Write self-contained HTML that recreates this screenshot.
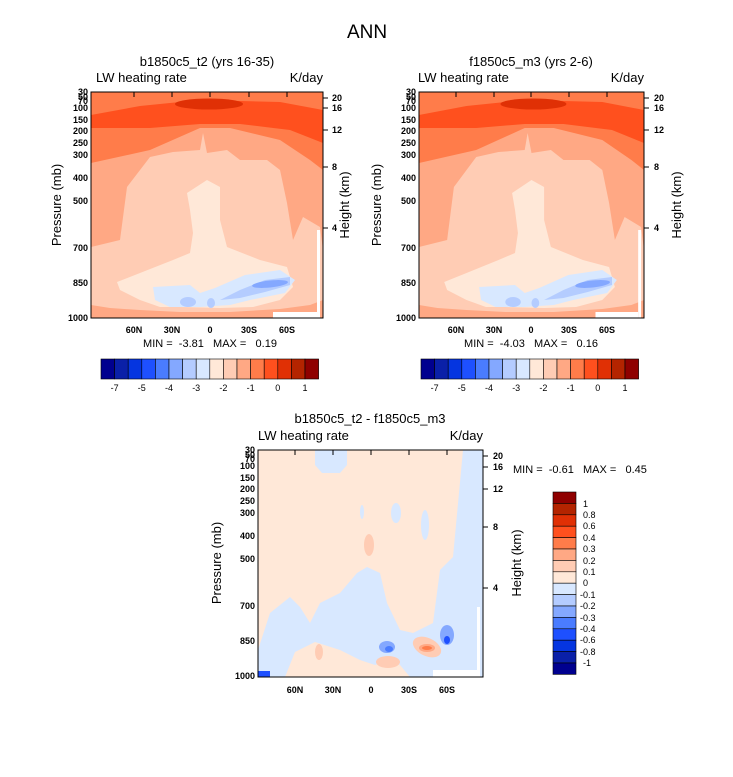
<!DOCTYPE html>
<html><head><meta charset="utf-8"><style>
body{margin:0;background:#fff;}
svg text{font-family:"Liberation Sans",Arial,sans-serif;white-space:pre;}
</style></head><body>
<svg width="733" height="772" viewBox="0 0 733 772" xmlns="http://www.w3.org/2000/svg" xml:space="preserve">
<defs>
<g id="field">
 <rect x="91" y="92" width="232" height="226" fill="#ffccb4"/>
 <polygon fill="#ffa884" points="91,92 323,92 323,250 320,227 303,217 293,240 287,203 280,170 267,160 240,160 227,150 207,153 203,133 200,150 173,152 150,157 127,187 120,240 91,247"/>
 <polygon fill="#ffa884" points="91,318 91,305 110,308 140,310 180,312 230,312 280,309 310,305 323,300 323,318"/>
 <polygon fill="#ff7c4a" points="91,92 323,92 323,170 310,160 280,140 230,128 200,128 150,150 91,163"/>
 <polygon fill="#ff501e" points="91,115 140,106 200,100 280,102 323,110 323,143 290,130 240,124 200,124 150,128 91,128"/>
 <ellipse cx="209" cy="104" rx="34" ry="5.5" fill="#e03005"/>
 <polygon fill="#ffe8d8" points="187,193 207,180 220,187 220,220 227,247 260,260 287,267 293,287 280,300 253,307 220,308 180,307 160,307 140,300 120,290 117,282 140,273 173,260 190,253 193,233 190,210"/>
 <polygon fill="#d8e8ff" points="153,287 190,285 200,293 215,288 245,275 280,270 295,280 285,293 250,300 230,305 200,307 170,307 155,300"/>
 <ellipse cx="188" cy="302" rx="8" ry="5" fill="#b4ccff"/>
 <ellipse cx="211" cy="303" rx="4" ry="5" fill="#b4ccff"/>
 <polygon fill="#b4ccff" points="220,300 240,290 265,280 290,277 290,285 265,292 240,298"/>
 <ellipse cx="270" cy="284" rx="18" ry="3.5" fill="#84a8ff" transform="rotate(-6 270 284)"/>
 <rect x="273" y="312" width="44" height="6" fill="#fff"/>
 <rect x="317" y="230" width="3" height="88" fill="#fff"/>
</g>
</defs>

<text x="367" y="38" font-size="19" text-anchor="middle">ANN</text>

<!-- Panel 1 -->
<text x="207" y="66" font-size="13" text-anchor="middle">b1850c5_t2 (yrs 16-35)</text>
<text x="96" y="82" font-size="13">LW heating rate</text>
<text x="323" y="82" font-size="13" text-anchor="end">K/day</text>
<use href="#field"/>
<rect x="91" y="92" width="232" height="226" fill="none" stroke="#000" stroke-width="1"/>
<g font-size="9" font-weight="bold" text-anchor="end">
 <text x="88" y="95">30</text><text x="88" y="100">50</text><text x="88" y="104">70</text><text x="88" y="111">100</text>
 <text x="88" y="123">150</text><text x="88" y="134">200</text><text x="88" y="146">250</text><text x="88" y="158">300</text>
 <text x="88" y="181">400</text><text x="88" y="204">500</text><text x="88" y="251">700</text><text x="88" y="286">850</text><text x="88" y="321">1000</text>
</g>
<g stroke="#000" stroke-width="1">
 <line x1="323" y1="98" x2="328" y2="98"/><line x1="323" y1="108" x2="328" y2="108"/><line x1="323" y1="130" x2="328" y2="130"/><line x1="323" y1="167" x2="328" y2="167"/><line x1="323" y1="228" x2="328" y2="228"/>
 <line x1="134" y1="92" x2="134" y2="97"/><line x1="172" y1="92" x2="172" y2="97"/><line x1="210" y1="92" x2="210" y2="97"/><line x1="249" y1="92" x2="249" y2="97"/><line x1="287" y1="92" x2="287" y2="97"/>
</g>
<g font-size="9" font-weight="bold">
 <text x="332" y="101">20</text><text x="332" y="111">16</text><text x="332" y="133">12</text><text x="332" y="170">8</text><text x="332" y="231">4</text>
</g>
<g font-size="9" font-weight="bold" text-anchor="middle">
 <text x="134" y="333">60N</text><text x="172" y="333">30N</text><text x="210" y="333">0</text><text x="249" y="333">30S</text><text x="287" y="333">60S</text>
</g>
<text x="210" y="347" font-size="11" text-anchor="middle">MIN =  -3.81   MAX =   0.19</text>
<text transform="translate(61,205) rotate(-90)" font-size="13" text-anchor="middle">Pressure (mb)</text>
<text transform="translate(349,205) rotate(-90)" font-size="13" text-anchor="middle">Height (km)</text>

<!-- Panel 2 -->
<text x="531" y="66" font-size="13" text-anchor="middle">f1850c5_m3 (yrs 2-6)</text>
<text x="418" y="82" font-size="13">LW heating rate</text>
<text x="644" y="82" font-size="13" text-anchor="end">K/day</text>
<g transform="translate(419,0) scale(0.9698,1) translate(-91,0)"><use href="#field"/></g>
<rect x="419" y="92" width="225" height="226" fill="none" stroke="#000" stroke-width="1"/>
<g font-size="9" font-weight="bold" text-anchor="end" transform="translate(328,0)">
 <text x="88" y="95">30</text><text x="88" y="100">50</text><text x="88" y="104">70</text><text x="88" y="111">100</text>
 <text x="88" y="123">150</text><text x="88" y="134">200</text><text x="88" y="146">250</text><text x="88" y="158">300</text>
 <text x="88" y="181">400</text><text x="88" y="204">500</text><text x="88" y="251">700</text><text x="88" y="286">850</text><text x="88" y="321">1000</text>
</g>
<g stroke="#000" stroke-width="1">
 <line x1="644" y1="98" x2="649" y2="98"/><line x1="644" y1="108" x2="649" y2="108"/><line x1="644" y1="130" x2="649" y2="130"/><line x1="644" y1="167" x2="649" y2="167"/><line x1="644" y1="228" x2="649" y2="228"/>
 <line x1="456" y1="92" x2="456" y2="97"/><line x1="494" y1="92" x2="494" y2="97"/><line x1="531" y1="92" x2="531" y2="97"/><line x1="569" y1="92" x2="569" y2="97"/><line x1="607" y1="92" x2="607" y2="97"/>
</g>
<g font-size="9" font-weight="bold">
 <text x="654" y="101">20</text><text x="654" y="111">16</text><text x="654" y="133">12</text><text x="654" y="170">8</text><text x="654" y="231">4</text>
</g>
<g font-size="9" font-weight="bold" text-anchor="middle">
 <text x="456" y="333">60N</text><text x="494" y="333">30N</text><text x="531" y="333">0</text><text x="569" y="333">30S</text><text x="607" y="333">60S</text>
</g>
<text x="531" y="347" font-size="11" text-anchor="middle">MIN =  -4.03   MAX =   0.16</text>
<text transform="translate(381,205) rotate(-90)" font-size="13" text-anchor="middle">Pressure (mb)</text>
<text transform="translate(681,205) rotate(-90)" font-size="13" text-anchor="middle">Height (km)</text>

<!-- Colorbars top -->
<g id="cb1" stroke="#000" stroke-width="0.6">
 <rect x="101.0" y="359" width="13.6" height="20" fill="#00008f"/>
 <rect x="114.6" y="359" width="13.6" height="20" fill="#0a20a8"/>
 <rect x="128.2" y="359" width="13.6" height="20" fill="#0535e0"/>
 <rect x="141.8" y="359" width="13.6" height="20" fill="#1e50ff"/>
 <rect x="155.4" y="359" width="13.6" height="20" fill="#4a7cff"/>
 <rect x="169.0" y="359" width="13.6" height="20" fill="#84a8ff"/>
 <rect x="182.6" y="359" width="13.6" height="20" fill="#b4ccff"/>
 <rect x="196.2" y="359" width="13.6" height="20" fill="#d8e8ff"/>
 <rect x="209.8" y="359" width="13.6" height="20" fill="#ffe8d8"/>
 <rect x="223.4" y="359" width="13.6" height="20" fill="#ffccb4"/>
 <rect x="237.0" y="359" width="13.6" height="20" fill="#ffa884"/>
 <rect x="250.6" y="359" width="13.6" height="20" fill="#ff7c4a"/>
 <rect x="264.2" y="359" width="13.6" height="20" fill="#ff501e"/>
 <rect x="277.8" y="359" width="13.6" height="20" fill="#e03005"/>
 <rect x="291.4" y="359" width="13.6" height="20" fill="#b42400"/>
 <rect x="305.0" y="359" width="13.6" height="20" fill="#8f0000"/>
</g>
<g font-size="9" text-anchor="middle">
 <text x="114.6" y="391">-7</text><text x="141.8" y="391">-5</text><text x="169" y="391">-4</text><text x="196.2" y="391">-3</text><text x="223.4" y="391">-2</text><text x="250.6" y="391">-1</text><text x="277.8" y="391">0</text><text x="305" y="391">1</text>
</g>
<use href="#cb1" transform="translate(320,0)"/>
<g font-size="9" text-anchor="middle" transform="translate(320,0)">
 <text x="114.6" y="391">-7</text><text x="141.8" y="391">-5</text><text x="169" y="391">-4</text><text x="196.2" y="391">-3</text><text x="223.4" y="391">-2</text><text x="250.6" y="391">-1</text><text x="277.8" y="391">0</text><text x="305" y="391">1</text>
</g>

<!-- Panel 3 -->
<text x="370" y="423" font-size="13" text-anchor="middle">b1850c5_t2 - f1850c5_m3</text>
<text x="258" y="440" font-size="13">LW heating rate</text>
<text x="483" y="440" font-size="13" text-anchor="end">K/day</text>
<rect x="258" y="450" width="225" height="227" fill="#ffe8d8"/>
<polygon fill="#d8e8ff" points="315,450 347,450 347,465 340,473 322,473 315,465"/>
<polygon fill="#d8e8ff" points="258,650 270,613 290,597 300,607 310,623 320,603 340,593 357,573 367,567 380,573 387,603 400,630 413,633 433,623 440,570 453,557 463,450 483,450 483,677 258,677"/>
<polygon fill="#ffe8d8" points="285,677 295,652 315,642 340,650 360,660 375,665 390,660 400,665 410,677"/>
<ellipse cx="396" cy="513" rx="5" ry="10" fill="#d8e8ff"/>
<ellipse cx="425" cy="525" rx="4" ry="15" fill="#d8e8ff"/>
<ellipse cx="362" cy="512" rx="2" ry="7" fill="#d8e8ff"/>
<ellipse cx="369" cy="545" rx="5" ry="11" fill="#ffccb4"/>
<ellipse cx="319" cy="652" rx="4" ry="8" fill="#ffccb4"/>
<ellipse cx="388" cy="662" rx="12" ry="6" fill="#ffccb4"/>
<ellipse cx="427" cy="647" rx="15" ry="9" fill="#ffccb4" transform="rotate(25 427 647)"/>
<ellipse cx="427" cy="648" rx="8" ry="4" fill="#ffa884"/>
<ellipse cx="427" cy="648" rx="5" ry="2" fill="#ff7c4a"/>
<ellipse cx="387" cy="647" rx="8" ry="6" fill="#84a8ff"/>
<ellipse cx="389" cy="649" rx="4" ry="3" fill="#4a7cff"/>
<ellipse cx="447" cy="635" rx="7" ry="10" fill="#84a8ff"/>
<ellipse cx="447" cy="640" rx="3" ry="4" fill="#1e50ff"/>
<rect x="258" y="671" width="12" height="6" fill="#1e50ff"/>
<rect x="433" y="670" width="44" height="7" fill="#fff"/>
<rect x="477" y="607" width="3" height="70" fill="#fff"/>
<rect x="258" y="450" width="225" height="227" fill="none" stroke="#000" stroke-width="1"/>
<g font-size="9" font-weight="bold" text-anchor="end" transform="translate(167,358)">
 <text x="88" y="95">30</text><text x="88" y="100">50</text><text x="88" y="104">70</text><text x="88" y="111">100</text>
 <text x="88" y="123">150</text><text x="88" y="134">200</text><text x="88" y="146">250</text><text x="88" y="158">300</text>
 <text x="88" y="181">400</text><text x="88" y="204">500</text><text x="88" y="251">700</text><text x="88" y="286">850</text><text x="88" y="321">1000</text>
</g>
<g stroke="#000" stroke-width="1">
 <line x1="483" y1="456" x2="488" y2="456"/><line x1="483" y1="467" x2="488" y2="467"/><line x1="483" y1="489" x2="488" y2="489"/><line x1="483" y1="527" x2="488" y2="527"/><line x1="483" y1="588" x2="488" y2="588"/>
 <line x1="295" y1="450" x2="295" y2="455"/><line x1="333" y1="450" x2="333" y2="455"/><line x1="371" y1="450" x2="371" y2="455"/><line x1="409" y1="450" x2="409" y2="455"/><line x1="447" y1="450" x2="447" y2="455"/>
</g>
<g font-size="9" font-weight="bold">
 <text x="493" y="459">20</text><text x="493" y="470">16</text><text x="493" y="492">12</text><text x="493" y="530">8</text><text x="493" y="591">4</text>
</g>
<g font-size="9" font-weight="bold" text-anchor="middle">
 <text x="295" y="693">60N</text><text x="333" y="693">30N</text><text x="371" y="693">0</text><text x="409" y="693">30S</text><text x="447" y="693">60S</text>
</g>
<text x="513" y="473" font-size="11">MIN =  -0.61   MAX =   0.45</text>
<text transform="translate(221,563) rotate(-90)" font-size="13" text-anchor="middle">Pressure (mb)</text>
<text transform="translate(521,563) rotate(-90)" font-size="13" text-anchor="middle">Height (km)</text>

<g stroke="#000" stroke-width="0.6">
 <rect x="553" y="492.0" width="23" height="11.4" fill="#8f0000"/>
 <rect x="553" y="503.4" width="23" height="11.4" fill="#b42400"/>
 <rect x="553" y="514.8" width="23" height="11.4" fill="#e03005"/>
 <rect x="553" y="526.2" width="23" height="11.4" fill="#ff501e"/>
 <rect x="553" y="537.6" width="23" height="11.4" fill="#ff7c4a"/>
 <rect x="553" y="549.0" width="23" height="11.4" fill="#ffa884"/>
 <rect x="553" y="560.4" width="23" height="11.4" fill="#ffccb4"/>
 <rect x="553" y="571.8" width="23" height="11.4" fill="#ffe8d8"/>
 <rect x="553" y="583.2" width="23" height="11.4" fill="#d8e8ff"/>
 <rect x="553" y="594.6" width="23" height="11.4" fill="#b4ccff"/>
 <rect x="553" y="606.0" width="23" height="11.4" fill="#84a8ff"/>
 <rect x="553" y="617.4" width="23" height="11.4" fill="#4a7cff"/>
 <rect x="553" y="628.8" width="23" height="11.4" fill="#1e50ff"/>
 <rect x="553" y="640.2" width="23" height="11.4" fill="#0535e0"/>
 <rect x="553" y="651.6" width="23" height="11.4" fill="#0a20a8"/>
 <rect x="553" y="663.0" width="23" height="11.4" fill="#00008f"/>
</g>
<g font-size="9">
 <text x="583" y="507">1</text><text x="583" y="518">0.8</text><text x="583" y="529">0.6</text><text x="583" y="541">0.4</text>
 <text x="583" y="552">0.3</text><text x="583" y="564">0.2</text><text x="583" y="575">0.1</text><text x="583" y="586">0</text>
 <text x="580" y="598">-0.1</text><text x="580" y="609">-0.2</text><text x="580" y="621">-0.3</text><text x="580" y="632">-0.4</text>
 <text x="580" y="643">-0.6</text><text x="580" y="655">-0.8</text><text x="583" y="666">-1</text>
</g>
</svg>
</body></html>
